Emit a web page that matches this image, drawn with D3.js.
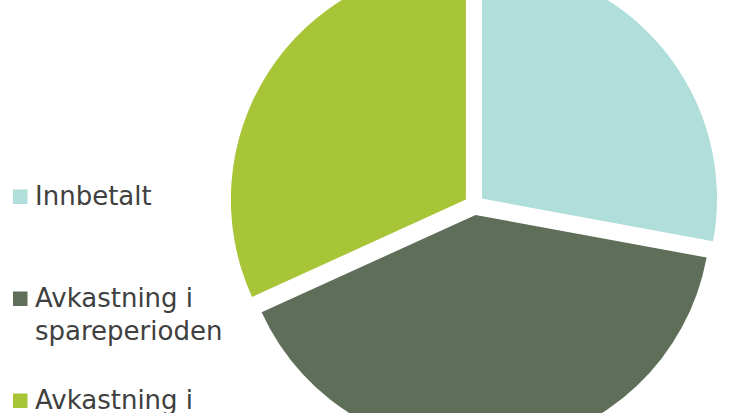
<!DOCTYPE html>
<html>
<head>
<meta charset="utf-8">
<script src="https://cdn.jsdelivr.net/npm/d3@7"></script>
<style>
  html, body { margin: 0; padding: 0; background: #fff; overflow: hidden; }
</style>
</head>
<body>
<svg id="canvas" width="735" height="413"></svg>
<script>
var categories = ["Innbetalt", "Avkastning i spareperioden", "Avkastning i"];
var labelLines = [["Innbetalt"], ["Avkastning i", "spareperioden"], ["Avkastning i"]];
var values = [27.9, 40.3, 31.8];
var colors = ["#b0dedb", "#5f6e58", "#a8c437"];

var svg = d3.select("#canvas"),
  width = +svg.attr("width"),
  height = +svg.attr("height"),
  radius = 235,
  explode = 10,
  g = svg.append("g").attr("transform", "translate(474.3,205)");

var pie = d3.pie()
  .sort(null)
  .value(function(d) { return d; });

var path = d3.arc()
  .outerRadius(radius)
  .innerRadius(0);

var color = d3.scaleOrdinal().domain(categories).range(colors);

g.selectAll(".arc")
  .data(pie(values))
  .enter().append("path")
  .attr("class", "arc")
  .attr("d", path)
  .attr("fill", function(d, i) { return color(categories[i]); })
  .attr("transform", function(d) {
    var mid = (d.startAngle + d.endAngle) / 2;
    return "translate(" + explode * Math.sin(mid) + "," + (-explode * Math.cos(mid)) + ")";
  });

// legend
var legendY = d3.scaleLinear().domain([0, 2]).range([204.5, 408.5]);

var item = svg.selectAll(".legend")
  .data(categories)
  .enter().append("g")
  .attr("class", "legend")
  .attr("transform", function(d, i) { return "translate(0," + legendY(i) + ")"; });

item.append("rect")
  .attr("x", 13)
  .attr("y", -15)
  .attr("width", 14.5)
  .attr("height", 14.5)
  .attr("fill", function(d) { return color(d); });

item.append("text")
  .attr("x", 35)
  .attr("font-family", "DejaVu Sans, Verdana, sans-serif")
  .attr("font-size", 26)
  .attr("fill", "#404040")
  .selectAll("tspan")
  .data(function(d, i) { return labelLines[i]; })
  .enter().append("tspan")
  .attr("x", 35)
  .attr("y", function(d, j) { return j * 33; })
  .text(function(d) { return d; });
</script>
</body>
</html>
